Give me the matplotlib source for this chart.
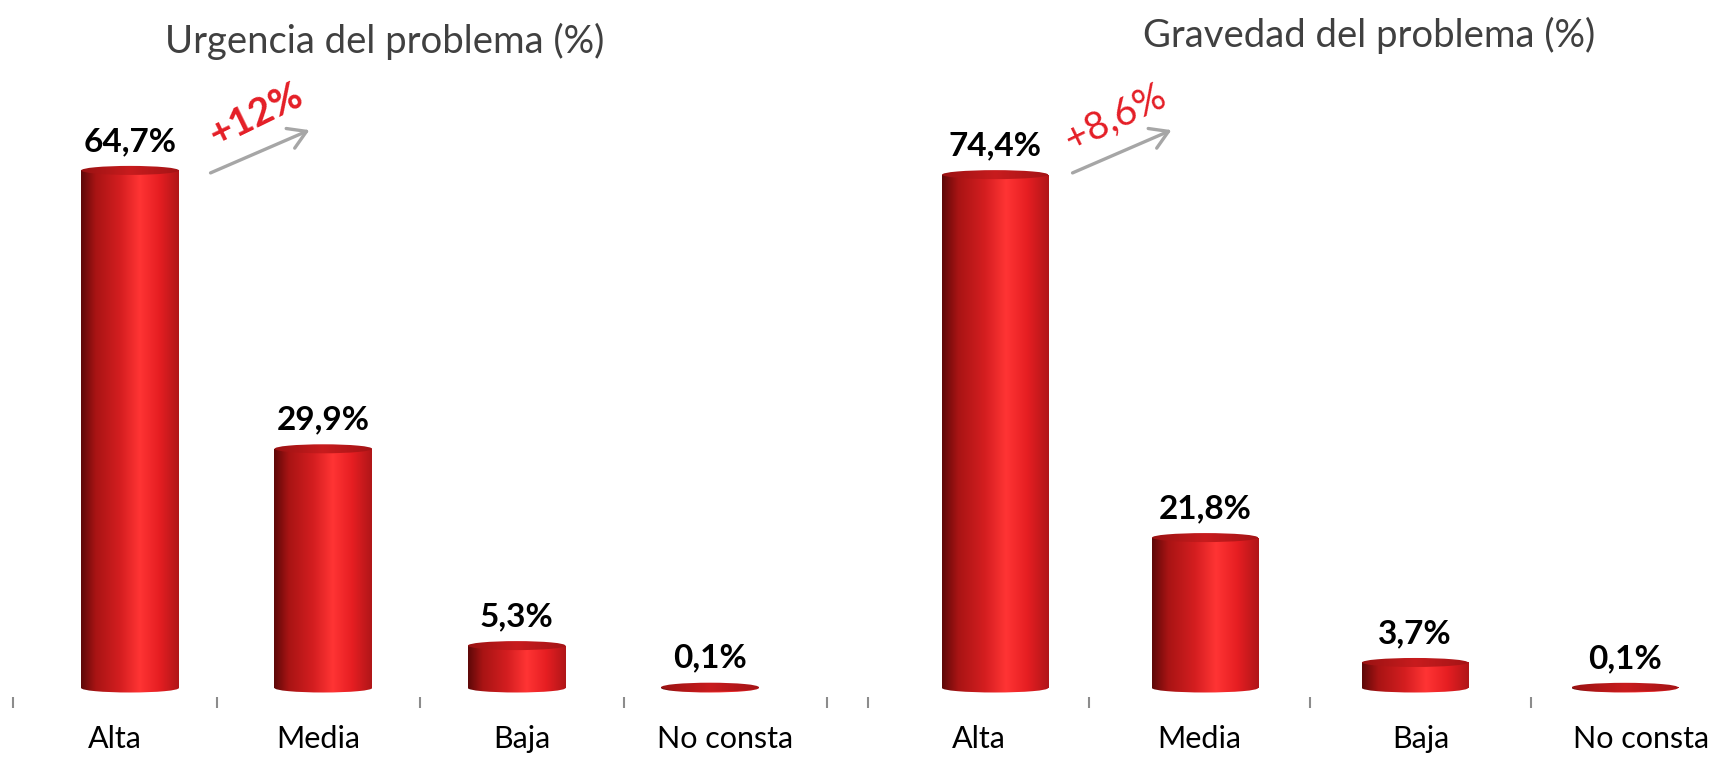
import matplotlib.pyplot as plt
import numpy as np
from matplotlib.colors import LinearSegmentedColormap
from matplotlib.patches import Ellipse, FancyArrowPatch

plt.rcParams['font.family'] = ['Lato', 'DejaVu Sans']

categories = ["Alta", "Media", "Baja", "No consta"]
urgencia = [64.7, 29.9, 5.3, 0.1]
gravedad = [74.4, 21.8, 3.7, 0.1]
titles = ["Urgencia del problema (%)", "Gravedad del problema (%)"]
changes = ["+12%", "+8,6%"]

W, H = 1734, 781

# cylinder shading, dark on the left, highlight a bit right of centre
body_cmap = LinearSegmentedColormap.from_list("body", [
    (0.0, "#5e0808"), (0.15, "#a81414"), (0.4, "#d41e20"),
    (0.6, "#ff3434"), (0.8, "#e61e22"), (1.0, "#b01618")])
cap_cmap = LinearSegmentedColormap.from_list("cap", [
    (0.0, "#9a1212"), (0.5, "#c81c1e"), (1.0, "#a41416")])
grad = np.linspace(0, 1, 256).reshape(1, -1)


def px_axes(fig, left, right, top, bottom):
    return fig.add_axes([left / W, 1 - bottom / H, (right - left) / W, (bottom - top) / H])


def draw_panel(ax, values, px_per_unit, title_xy, title):
    base = 9 / px_per_unit
    ylim = (-base, (597 - 9) / px_per_unit)

    # bars sit a little closer together than the category slots (perspective)
    xs = 1.5 + (np.arange(len(values)) - 1.5) * 0.95
    width = 0.48
    ell_h = 9 / px_per_unit
    bars = ax.bar(xs, values, width=width, color="none", zorder=1)

    for x, v, rect in zip(xs, values, bars.patches):
        ext = (x - width / 2, x + width / 2, -ell_h, v)
        im = ax.imshow(grad, cmap=body_cmap, extent=ext, aspect="auto", zorder=2)
        im.set_clip_path(rect)
        bottom = Ellipse((x, 0), width, ell_h, facecolor="none", edgecolor="none")
        ax.add_patch(bottom)
        im2 = ax.imshow(grad, cmap=body_cmap, extent=ext, aspect="auto", zorder=2)
        im2.set_clip_path(bottom)
        top = Ellipse((x, v), width, ell_h, facecolor="none", edgecolor="none")
        ax.add_patch(top)
        im3 = ax.imshow(grad, cmap=cap_cmap, extent=(x - width / 2, x + width / 2, v - ell_h, v + ell_h),
                        aspect="auto", zorder=3)
        im3.set_clip_path(top)
        ax.annotate(f"{v:.1f}%".replace(".", ","), (x, v), xytext=(0, 14),
                    textcoords="offset points", ha="center", va="baseline",
                    fontsize=24, fontweight="bold", color="black")

    ax.set_xlim(-0.5, 3.5)
    ax.set_ylim(*ylim)
    ax.set_xticks(range(len(categories)))
    ax.set_xticklabels(categories, fontsize=22)
    ax.set_xticks(np.arange(-0.5, 4, 1), minor=True)
    ax.tick_params(axis="x", which="major", length=0, pad=20)
    ax.tick_params(axis="x", which="minor", length=8, width=1.5, color="#8c8c8c")
    ax.set_yticks([])
    for s in ax.spines.values():
        s.set_visible(False)

    fig.text(title_xy[0] / W, 1 - title_xy[1] / H, title, ha="center", va="center",
             fontsize=27.5, color="#404040")


fig = plt.figure(figsize=(W / 100, H / 100), dpi=100)
ax1 = px_axes(fig, 13, 827, 100, 697)
ax2 = px_axes(fig, 868, 1752, 100, 697)

draw_panel(ax1, urgencia, 8.0, (385, 41), titles[0])
draw_panel(ax2, gravedad, 6.9, (1369, 35), titles[1])

# growth arrows with the change label
arrows = [((208, 174), (312, 129)), ((1070, 174), (1174, 129))]
label_pos = [(256, 115), (1115, 118)]
weights = ["bold", "normal"]
for (start, end), pos, txt, wt in zip(arrows, label_pos, changes, weights):
    fig.patches.append(FancyArrowPatch(
        (start[0] / W, 1 - start[1] / H), (end[0] / W, 1 - end[1] / H),
        transform=fig.transFigure, arrowstyle="->,head_length=0.9,head_width=0.55",
        color="#a6a6a6", lw=2.4, mutation_scale=14))
    fig.text(pos[0] / W, 1 - pos[1] / H, txt, ha="center", va="center", rotation=26,
             fontsize=28, fontweight=wt, color="#e41e26", rotation_mode="anchor")

fig.savefig("out.png", dpi=100)
